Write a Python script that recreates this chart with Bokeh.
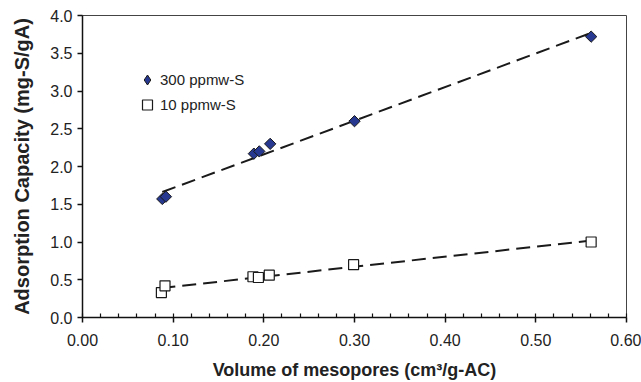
import numpy as np
from bokeh.plotting import figure
from bokeh.models import Range1d, FixedTicker, NumeralTickFormatter, Legend, LegendItem
from bokeh.embed import file_html
from bokeh.resources import INLINE

# Data
x_300 = [0.088, 0.092, 0.189, 0.195, 0.207, 0.300, 0.561]
y_300 = [1.57, 1.60, 2.17, 2.20, 2.30, 2.60, 3.72]
x_10 = [0.087, 0.091, 0.188, 0.194, 0.206, 0.299, 0.561]
y_10 = [0.33, 0.42, 0.54, 0.53, 0.56, 0.70, 1.00]
label_300 = "300 ppmw-S"
label_10 = "10 ppmw-S"
x_ticks = [0.0, 0.1, 0.2, 0.3, 0.4, 0.5, 0.6]
y_ticks = [0.0, 0.5, 1.0, 1.5, 2.0, 2.5, 3.0, 3.5, 4.0]
x_title = "Volume of mesopores (cm³/g-AC)"
y_title = "Adsorption Capacity (mg-S/gA)"

FONT = "Liberation Sans"

p = figure(width=641, height=382, output_backend="svg", toolbar_location=None,
           x_range=Range1d(0, 0.6), y_range=Range1d(0, 4.0))
p.min_border_left = 82
p.min_border_right = 15
p.min_border_top = 15
p.min_border_bottom = 61
p.background_fill_color = "white"
p.border_fill_color = "white"
p.outline_line_color = "#444444"
p.outline_line_width = 1
p.xgrid.visible = False
p.ygrid.visible = False

# Trendlines (linear least squares fit of each series)
def trend(xs, ys):
    m, b = np.polyfit(xs, ys, 1)
    xx = np.array([min(xs), max(xs)])
    return xx, m * xx + b

tx, ty = trend(x_300, y_300)
p.line(tx, ty, line_color="#1a1a1a", line_width=2, line_dash="14 7")
tx, ty = trend(x_10, y_10)
p.line(tx, ty, line_color="#1a1a1a", line_width=2, line_dash="14 7")

# diamond renderer (used for the legend glyph), covered by the rotated squares
r300_leg = p.scatter(x_300, y_300, marker="diamond", size=8, fill_color="#26388f",
                     line_color="#1a1a1a", line_width=1)
r300 = p.scatter(x_300, y_300, marker="square", angle=np.pi / 4, size=8,
                 fill_color="#26388f", line_color="#1a1a1a", line_width=1)
r10 = p.scatter(x_10, y_10, marker="square", size=10,
                fill_color="white", line_color="#1a1a1a", line_width=1.2)

legend = Legend(items=[LegendItem(label=label_300, renderers=[r300_leg]),
                       LegendItem(label=label_10, renderers=[r10])],
                location=(52, 200), padding=0, spacing=0, margin=0,
                glyph_width=26, glyph_height=25, label_height=25, label_standoff=0,
                label_text_font=FONT, label_text_font_size="15px", label_text_color="#222222",
                background_fill_alpha=0, border_line_alpha=0)
p.add_layout(legend, "center")

# X axis
xa = p.xaxis[0]
xa.ticker = FixedTicker(ticks=x_ticks, minor_ticks=list(np.round(np.arange(0, 0.6001, 0.02), 4)))
xa.formatter = NumeralTickFormatter(format="0.00")
xa.axis_line_color = "#111111"
xa.axis_line_width = 1.5
xa.major_tick_in = 0
xa.major_tick_out = 5
xa.major_tick_line_color = "#111111"
xa.major_tick_line_width = 1.5
xa.minor_tick_in = 4
xa.minor_tick_out = 0
xa.minor_tick_line_color = "#111111"
xa.minor_tick_line_width = 1.2
xa.major_label_standoff = 11
xa.major_label_text_font = FONT
xa.major_label_text_font_size = "16px"
xa.major_label_text_color = "#222222"
xa.axis_label = x_title
xa.axis_label_text_font = FONT
xa.axis_label_text_font_size = "18px"
xa.axis_label_text_font_style = "bold"
xa.axis_label_text_color = "#222222"
xa.axis_label_standoff = 11

# Y axis
ya = p.yaxis[0]
ya.ticker = FixedTicker(ticks=y_ticks, minor_ticks=[])
ya.formatter = NumeralTickFormatter(format="0.0")
ya.axis_line_color = "#111111"
ya.axis_line_width = 1.5
ya.major_tick_in = 0
ya.major_tick_out = 5
ya.major_tick_line_color = "#111111"
ya.major_tick_line_width = 1.5
ya.minor_tick_in = 0
ya.minor_tick_out = 0
ya.major_label_standoff = 5
ya.major_label_text_font = FONT
ya.major_label_text_font_size = "16px"
ya.major_label_text_color = "#222222"
ya.axis_label = y_title
ya.axis_label_text_font = FONT
ya.axis_label_text_font_size = "20px"
ya.axis_label_text_font_style = "bold"
ya.axis_label_text_color = "#222222"
ya.axis_label_standoff = 14

open("out.html", "w").write(file_html(p, INLINE))
